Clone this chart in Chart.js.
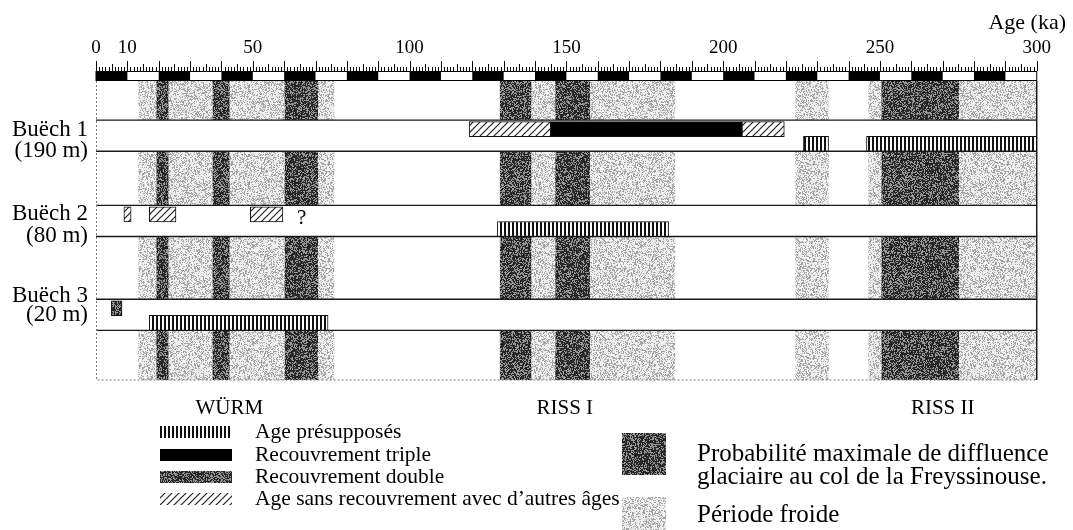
<!DOCTYPE html>
<html lang="fr">
<head>
  <meta charset="UTF-8" />
  <title>Buëch · âges et périodes froides</title>
  <script src="https://cdn.jsdelivr.net/npm/chart.js"></script>
  <style>
    html, body { margin: 0; padding: 0; background: #fff; }
    #wrap { position: relative; width: 1073px; height: 530px; }
  </style>
</head>
<body>
  <div id="wrap"><canvas id="chart" width="1073" height="530"></canvas></div>

  <script>
    // ---- données (ka) ----
    const sites = ['Buëch 1', 'Buëch 2', 'Buëch 3'];
    const altitudes = ['(190 m)', '(80 m)', '(20 m)'];
    const tickValues = [0, 10, 50, 100, 150, 200, 250, 300];
    const coldPeriods = [[13.5, 76], [128.8, 184.7], [223, 233.7], [246.3, 300]];
    const diffluence = [[19.3, 23.1], [37.2, 42.6], [60.2, 70.8], [128.8, 138.8], [146.5, 157.5], [250.5, 275.2]];
    const stageNames = ['WÜRM', 'RISS I', 'RISS II'];
    const stageAges = [42.5, 149.5, 270];
    // [site, début, fin]
    const presupposed = [[0, 225.6, 233.6], [0, 245.7, 300], [1, 128, 182.6], [2, 17, 74]];
    const tripleOverlap = [[0, 145, 206]];
    const doubleOverlap = [[2, 4.9, 8.3]];
    const noOverlap = [[0, 119, 145], [0, 206, 219.5], [1, 8.9, 11.2], [1, 17, 25.5], [1, 49.2, 59.6]];
    const questionMarks = [[1, 65.6]];

    // ---- mise en page ----
    const SERIF = '"Liberation Serif", "DejaVu Serif", serif';
    const rowTop = [39, 124, 217.5];   // unités de l'axe y
    const rowH = 31;
    const nameDy = [10, 9, -3], altDy = [31, 31, 16];

    const canvas = document.getElementById('chart');
    const ctx = canvas.getContext('2d');

    function lcg(seed) {
      let s = seed;
      return () => (s = (s * 1664525 + 1013904223) >>> 0) / 4294967296;
    }
    function stipple(base, dot, density, seed) {
      const c = document.createElement('canvas');
      c.width = c.height = 97;
      const g = c.getContext('2d');
      const img = g.createImageData(97, 97);
      const rnd = lcg(seed);
      for (let i = 0; i < 97 * 97; i++) {
        const v = (rnd() < density ? dot : base) + (rnd() * 24 - 12);
        img.data[i * 4] = img.data[i * 4 + 1] = img.data[i * 4 + 2] = v;
        img.data[i * 4 + 3] = 255;
      }
      g.putImageData(img, 0, 0);
      return ctx.createPattern(c, 'repeat');
    }
    function vertHatch() {
      const c = document.createElement('canvas');
      c.width = 4; c.height = 8;
      const g = c.getContext('2d');
      g.fillStyle = '#fff'; g.fillRect(0, 0, 4, 8);
      g.fillStyle = '#111'; g.fillRect(0, 0, 2, 8);
      return ctx.createPattern(c, 'repeat');
    }
    function diagHatch() {
      const c = document.createElement('canvas');
      c.width = c.height = 7;
      const g = c.getContext('2d');
      g.fillStyle = '#fff'; g.fillRect(0, 0, 7, 7);
      g.strokeStyle = '#222'; g.lineWidth = 1.2;
      g.beginPath();
      g.moveTo(-1, 8); g.lineTo(8, -1);
      g.moveTo(-1, 1); g.lineTo(1, -1);
      g.moveTo(6, 8); g.lineTo(8, 6);
      g.stroke();
      return ctx.createPattern(c, 'repeat');
    }
    const lightFill = stipple(238, 165, 0.35, 7);
    const darkFill = stipple(148, 40, 0.62, 11);
    const vertFill = vertHatch();
    const diagFill = diagHatch();

    const lane = (site, lower) => rowTop[site] + (lower ? 23.5 : 9);
    const toBars = (list, lower) => list.map(([s, a, b]) => ({ x: [a, b], y: lane(s, lower) }));

    function barSet(label, list, lower, fill) {
      return {
        label, data: toBars(list, lower),
        backgroundColor: fill, borderColor: '#111', borderWidth: 1,
        borderSkipped: false, barThickness: 15, grouped: false
      };
    }

    const backdrop = {
      id: 'backdrop',
      beforeDatasetsDraw(chart) {
        const { left, right, top, bottom } = chart.chartArea;
        const x = chart.scales.x, y = chart.scales.y;
        const c = chart.ctx;
        c.save();
        coldPeriods.forEach(([a, b]) => {
          c.fillStyle = lightFill;
          c.fillRect(x.getPixelForValue(a), top, x.getPixelForValue(b) - x.getPixelForValue(a), bottom - top);
        });
        diffluence.forEach(([a, b]) => {
          c.fillStyle = darkFill;
          c.fillRect(x.getPixelForValue(a), top, x.getPixelForValue(b) - x.getPixelForValue(a), bottom - top);
        });
        // rangées blanches
        rowTop.forEach(t => {
          const yt = y.getPixelForValue(t), yb = y.getPixelForValue(t + rowH);
          c.fillStyle = '#fff';
          c.fillRect(left, yt, right - left, yb - yt);
          c.strokeStyle = '#1a1a1a'; c.lineWidth = 1.4;
          c.beginPath();
          c.moveTo(left, yt); c.lineTo(right, yt);
          c.moveTo(left, yb); c.lineTo(right, yb);
          c.stroke();
        });
        // cadre
        c.strokeStyle = '#777'; c.lineWidth = 1; c.setLineDash([2, 2]);
        c.beginPath();
        c.moveTo(left + 0.5, top); c.lineTo(left + 0.5, bottom);
        c.lineTo(right, bottom);
        c.stroke();
        c.setLineDash([]);
        c.strokeStyle = '#111'; c.lineWidth = 1.4;
        c.beginPath(); c.moveTo(right, top); c.lineTo(right, bottom); c.stroke();
        // règle graduée
        const y0 = top - 10;
        c.fillStyle = '#000';
        for (let s = 0; s < 30; s += 2) {
          const a = x.getPixelForValue(s * 10), b = x.getPixelForValue(s * 10 + 10);
          c.fillRect(a, y0, b - a, 9);
        }
        c.strokeStyle = '#000'; c.lineWidth = 1;
        c.strokeRect(left, y0 + 0.5, right - left, 9);
        c.beginPath();
        for (let k = 0; k <= 300; k++) {
          const px = Math.round(x.getPixelForValue(k)) + 0.5;
          const len = k % 10 === 0 ? 10 : (k % 5 === 0 ? 7 : 4);
          c.moveTo(px, y0); c.lineTo(px, y0 - len);
        }
        c.stroke();
        c.restore();
      }
    };

    const overlay = {
      id: 'overlay',
      afterDraw(chart) {
        const x = chart.scales.x, y = chart.scales.y;
        const c = chart.ctx;
        c.save();
        c.fillStyle = '#000';
        c.textBaseline = 'middle';
        c.font = '21px ' + SERIF;
        c.textAlign = 'center';
        questionMarks.forEach(([s, a]) => c.fillText('?', x.getPixelForValue(a), y.getPixelForValue(lane(s, false)) + 4));
        c.textAlign = 'right';
        c.font = '23px ' + SERIF;
        sites.forEach((name, i) => {
          const yt = y.getPixelForValue(rowTop[i]);
          c.fillText(name, 88, yt + nameDy[i]);
          c.fillText(altitudes[i], 88, yt + altDy[i]);
        });
        c.font = '22px ' + SERIF;
        c.fillText('Age (ka)', 1066, 23);
        c.textAlign = 'center';
        c.font = '21px ' + SERIF;
        stageNames.forEach((n, i) => c.fillText(n, x.getPixelForValue(stageAges[i]), chart.chartArea.bottom + 28));
        // légende
        c.font = '21.5px ' + SERIF;
        c.textAlign = 'left';
        const items = [['Age présupposés', vertFill, 432], ['Recouvrement triple', '#000', 455],
                       ['Recouvrement double', darkFill, 477], ['Age sans recouvrement avec d’autres âges', diagFill, 499]];
        items.forEach(([t, f, yy]) => {
          c.fillStyle = f; c.fillRect(160, yy - 6, 72, 12);
          c.fillStyle = '#000'; c.fillText(t, 255, yy);
        });
        c.fillStyle = darkFill; c.fillRect(622, 433, 44, 42);
        c.fillStyle = lightFill; c.fillRect(622, 497, 44, 33);
        c.fillStyle = '#000';
        c.font = '25px ' + SERIF;
        c.fillText('Probabilité maximale de diffluence', 697, 454);
        c.fillText('glaciaire au col de la Freyssinouse.', 697, 477);
        c.fillText('Période froide', 697, 515);
        c.restore();
      }
    };

    new Chart(ctx, {
      type: 'bar',
      data: {
        datasets: [
          barSet('Age présupposés', presupposed, true, vertFill),
          barSet('Recouvrement triple', tripleOverlap, false, '#000'),
          barSet('Recouvrement double', doubleOverlap, false, darkFill),
          barSet('Age sans recouvrement avec d’autres âges', noOverlap, false, diagFill)
        ]
      },
      options: {
        indexAxis: 'y',
        responsive: false,
        animation: false,
        layout: { padding: { left: 96, right: 16, top: 10, bottom: 150 } },
        plugins: { legend: { display: false }, tooltip: { enabled: false } },
        scales: {
          x: {
            type: 'linear', position: 'top', min: 0, max: 300,
            afterBuildTicks: s => { s.ticks = tickValues.map(v => ({ value: v })); },
            afterFit: s => { s.height = 71; },
            grid: { display: false, drawTicks: false },
            border: { display: false },
            ticks: { autoSkip: false, maxRotation: 0, color: '#000', padding: 22, font: { family: SERIF, size: 19 } }
          },
          y: { type: 'linear', min: 0, max: 298, reverse: true, offset: false, display: false }
        }
      },
      plugins: [backdrop, overlay]
    });
  </script>
</body>
</html>
